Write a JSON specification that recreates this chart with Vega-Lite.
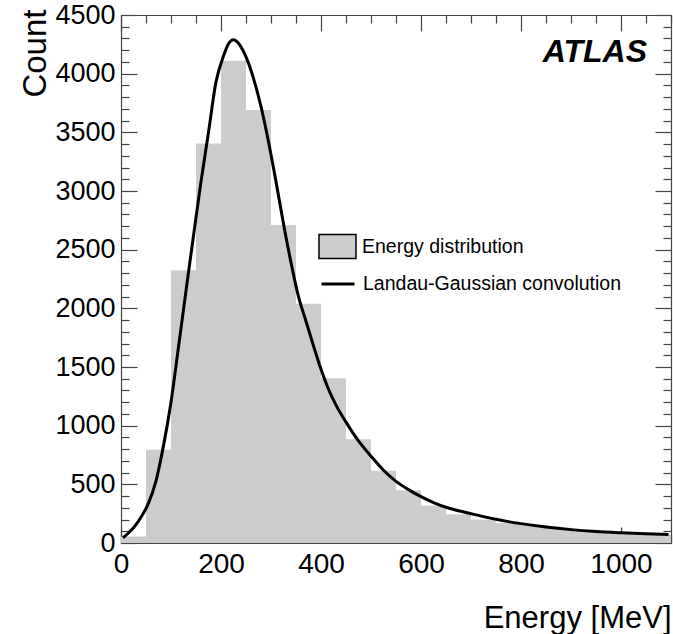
{
  "$schema": "https://vega.github.io/schema/vega-lite/v6.json",
  "width": 550,
  "height": 528,
  "autosize": {"type": "none"},
  "padding": {"left": 121, "top": 15, "right": 2, "bottom": 91},
  "background": "white",
  "config": {
    "font": "Liberation Sans",
    "view": {"stroke": null},
    "axis": {
      "domainColor": "#444",
      "domainWidth": 1.2,
      "tickColor": "#444",
      "tickWidth": 1.2,
      "labelFont": "Liberation Sans",
      "labelColor": "black",
      "titleFont": "Liberation Sans",
      "titleFontWeight": "normal",
      "titleColor": "black",
      "grid": false,
      "zindex": 1,
      "labelOverlap": false,
      "labelFlush": false,
      "labelBound": false
    },
    "legend": {
      "labelFont": "Liberation Sans",
      "labelFontSize": 19.5,
      "labelColor": "black",
      "labelLimit": 400,
      "padding": 0,
      "title": null
    }
  },
  "datasets": {
    "hist": [
      {"bin_start": 0, "bin_end": 50, "count": 55, "series": "Energy distribution"},
      {"bin_start": 50, "bin_end": 100, "count": 795, "series": "Energy distribution"},
      {"bin_start": 100, "bin_end": 150, "count": 2325, "series": "Energy distribution"},
      {"bin_start": 150, "bin_end": 200, "count": 3405, "series": "Energy distribution"},
      {"bin_start": 200, "bin_end": 250, "count": 4110, "series": "Energy distribution"},
      {"bin_start": 250, "bin_end": 300, "count": 3690, "series": "Energy distribution"},
      {"bin_start": 300, "bin_end": 350, "count": 2710, "series": "Energy distribution"},
      {"bin_start": 350, "bin_end": 400, "count": 2040, "series": "Energy distribution"},
      {"bin_start": 400, "bin_end": 450, "count": 1405, "series": "Energy distribution"},
      {"bin_start": 450, "bin_end": 500, "count": 885, "series": "Energy distribution"},
      {"bin_start": 500, "bin_end": 550, "count": 615, "series": "Energy distribution"},
      {"bin_start": 550, "bin_end": 600, "count": 450, "series": "Energy distribution"},
      {"bin_start": 600, "bin_end": 650, "count": 320, "series": "Energy distribution"},
      {"bin_start": 650, "bin_end": 700, "count": 245, "series": "Energy distribution"},
      {"bin_start": 700, "bin_end": 750, "count": 200, "series": "Energy distribution"},
      {"bin_start": 750, "bin_end": 800, "count": 170, "series": "Energy distribution"},
      {"bin_start": 800, "bin_end": 850, "count": 150, "series": "Energy distribution"},
      {"bin_start": 850, "bin_end": 900, "count": 130, "series": "Energy distribution"},
      {"bin_start": 900, "bin_end": 950, "count": 112, "series": "Energy distribution"},
      {"bin_start": 950, "bin_end": 1000, "count": 95, "series": "Energy distribution"},
      {"bin_start": 1000, "bin_end": 1050, "count": 82, "series": "Energy distribution"},
      {"bin_start": 1050, "bin_end": 1100, "count": 74, "series": "Energy distribution"}
    ],
    "fit": [
      {"energy": 4, "count": 45, "series": "Landau-Gaussian convolution"},
      {"energy": 15, "count": 85, "series": "Landau-Gaussian convolution"},
      {"energy": 25, "count": 130, "series": "Landau-Gaussian convolution"},
      {"energy": 40, "count": 220, "series": "Landau-Gaussian convolution"},
      {"energy": 55, "count": 340, "series": "Landau-Gaussian convolution"},
      {"energy": 70, "count": 530, "series": "Landau-Gaussian convolution"},
      {"energy": 85, "count": 830, "series": "Landau-Gaussian convolution"},
      {"energy": 100, "count": 1200, "series": "Landau-Gaussian convolution"},
      {"energy": 115, "count": 1670, "series": "Landau-Gaussian convolution"},
      {"energy": 130, "count": 2150, "series": "Landau-Gaussian convolution"},
      {"energy": 145, "count": 2620, "series": "Landau-Gaussian convolution"},
      {"energy": 160, "count": 3080, "series": "Landau-Gaussian convolution"},
      {"energy": 175, "count": 3500, "series": "Landau-Gaussian convolution"},
      {"energy": 190, "count": 3930, "series": "Landau-Gaussian convolution"},
      {"energy": 205, "count": 4150, "series": "Landau-Gaussian convolution"},
      {"energy": 215, "count": 4255, "series": "Landau-Gaussian convolution"},
      {"energy": 225, "count": 4290, "series": "Landau-Gaussian convolution"},
      {"energy": 235, "count": 4260, "series": "Landau-Gaussian convolution"},
      {"energy": 245, "count": 4190, "series": "Landau-Gaussian convolution"},
      {"energy": 255, "count": 4090, "series": "Landau-Gaussian convolution"},
      {"energy": 265, "count": 3960, "series": "Landau-Gaussian convolution"},
      {"energy": 280, "count": 3720, "series": "Landau-Gaussian convolution"},
      {"energy": 295, "count": 3420, "series": "Landau-Gaussian convolution"},
      {"energy": 310, "count": 3080, "series": "Landau-Gaussian convolution"},
      {"energy": 325, "count": 2720, "series": "Landau-Gaussian convolution"},
      {"energy": 340, "count": 2390, "series": "Landau-Gaussian convolution"},
      {"energy": 355, "count": 2100, "series": "Landau-Gaussian convolution"},
      {"energy": 370, "count": 1890, "series": "Landau-Gaussian convolution"},
      {"energy": 385, "count": 1680, "series": "Landau-Gaussian convolution"},
      {"energy": 400, "count": 1480, "series": "Landau-Gaussian convolution"},
      {"energy": 415, "count": 1310, "series": "Landau-Gaussian convolution"},
      {"energy": 430, "count": 1175, "series": "Landau-Gaussian convolution"},
      {"energy": 450, "count": 1030, "series": "Landau-Gaussian convolution"},
      {"energy": 475, "count": 870, "series": "Landau-Gaussian convolution"},
      {"energy": 500, "count": 740, "series": "Landau-Gaussian convolution"},
      {"energy": 525, "count": 620, "series": "Landau-Gaussian convolution"},
      {"energy": 550, "count": 525, "series": "Landau-Gaussian convolution"},
      {"energy": 575, "count": 455, "series": "Landau-Gaussian convolution"},
      {"energy": 600, "count": 395, "series": "Landau-Gaussian convolution"},
      {"energy": 625, "count": 345, "series": "Landau-Gaussian convolution"},
      {"energy": 650, "count": 305, "series": "Landau-Gaussian convolution"},
      {"energy": 675, "count": 275, "series": "Landau-Gaussian convolution"},
      {"energy": 700, "count": 250, "series": "Landau-Gaussian convolution"},
      {"energy": 725, "count": 225, "series": "Landau-Gaussian convolution"},
      {"energy": 750, "count": 202, "series": "Landau-Gaussian convolution"},
      {"energy": 775, "count": 182, "series": "Landau-Gaussian convolution"},
      {"energy": 800, "count": 165, "series": "Landau-Gaussian convolution"},
      {"energy": 850, "count": 136, "series": "Landau-Gaussian convolution"},
      {"energy": 900, "count": 114, "series": "Landau-Gaussian convolution"},
      {"energy": 950, "count": 98, "series": "Landau-Gaussian convolution"},
      {"energy": 1000, "count": 87, "series": "Landau-Gaussian convolution"},
      {"energy": 1050, "count": 78, "series": "Landau-Gaussian convolution"},
      {"energy": 1095, "count": 72, "series": "Landau-Gaussian convolution"}
    ],
    "tag": [{"label": "ATLAS", "energy": 1052, "count": 4100}]
  },
  "resolve": {"axis": {"x": "independent", "y": "independent"}},
  "layer": [
    {
      "data": {"name": "hist"},
      "mark": {"type": "bar", "stroke": null},
      "encoding": {
        "x": {
          "field": "bin_start",
          "type": "quantitative",
          "scale": {"domain": [0, 1100], "nice": false, "zero": false},
          "axis": {
            "orient": "bottom",
            "values": [0,50,100,150,200,250,300,350,400,450,500,550,600,650,700,750,800,850,900,950,1000,1050,1100],
            "format": "d",
            "tickSize": {"condition": {"test": "datum.value % 200 === 0", "value": -16}, "value": -8},
            "labelExpr": "datum.value % 200 === 0 ? datum.label : ''",
            "labelFontSize": 28,
            "labelPadding": 23,
            "title": "Energy [MeV]",
            "titleFontSize": 31,
            "titleAnchor": "end",
            "titleAlign": "right",
            "titleBaseline": "alphabetic",
            "titleY": 84
          }
        },
        "x2": {"field": "bin_end"},
        "y": {
          "field": "count",
          "type": "quantitative",
          "scale": {"domain": [0, 4500], "nice": false},
          "axis": {
            "orient": "left",
            "values": [0,100,200,300,400,500,600,700,800,900,1000,1100,1200,1300,1400,1500,1600,1700,1800,1900,2000,2100,2200,2300,2400,2500,2600,2700,2800,2900,3000,3100,3200,3300,3400,3500,3600,3700,3800,3900,4000,4100,4200,4300,4400,4500],
            "format": "d",
            "tickSize": {"condition": {"test": "datum.value % 500 === 0", "value": -16}, "value": -8},
            "labelExpr": "datum.value % 500 === 0 ? datum.label : ''",
            "labelFontSize": 27,
            "labelPadding": 22,
            "title": "Count",
            "titleFontSize": 33,
            "titleAnchor": "end",
            "titleAlign": "right",
            "titleBaseline": "alphabetic",
            "titleX": -76,
            "titleY": -6
          }
        },
        "y2": {"datum": 0},
        "fill": {
          "field": "series",
          "type": "nominal",
          "scale": {"domain": ["Energy distribution"], "range": ["#cccccc"]},
          "legend": {
            "orient": "none",
            "legendX": 197,
            "legendY": 212,
            "symbolType": "M-1,-0.65H1V0.65H-1Z",
            "symbolSize": 1369,
            "symbolStrokeColor": "#000000",
            "symbolStrokeWidth": 1.5,
            "symbolOpacity": 1,
            "labelOffset": 5
          }
        }
      }
    },
    {
      "data": {"name": "fit"},
      "mark": {"type": "line", "strokeWidth": 3, "interpolate": "monotone"},
      "encoding": {
        "x": {
          "field": "energy",
          "type": "quantitative",
          "axis": {
            "orient": "top",
            "values": [0,50,100,150,200,250,300,350,400,450,500,550,600,650,700,750,800,850,900,950,1000,1050,1100],
            "tickSize": {"condition": {"test": "datum.value % 200 === 0", "value": -16}, "value": -8},
            "labels": false,
            "title": null
          }
        },
        "y": {
          "field": "count",
          "type": "quantitative",
          "axis": {
            "orient": "right",
            "values": [0,100,200,300,400,500,600,700,800,900,1000,1100,1200,1300,1400,1500,1600,1700,1800,1900,2000,2100,2200,2300,2400,2500,2600,2700,2800,2900,3000,3100,3200,3300,3400,3500,3600,3700,3800,3900,4000,4100,4200,4300,4400,4500],
            "tickSize": {"condition": {"test": "datum.value % 500 === 0", "value": -16}, "value": -8},
            "labels": false,
            "title": null
          }
        },
        "stroke": {
          "field": "series",
          "type": "nominal",
          "scale": {"domain": ["Landau-Gaussian convolution"], "range": ["#000000"]},
          "legend": {
            "orient": "none",
            "legendX": 199,
            "legendY": 251,
            "symbolType": "stroke",
            "symbolSize": 1089,
            "symbolStrokeWidth": 3,
            "symbolOpacity": 1,
            "labelOffset": 7
          }
        }
      }
    },
    {
      "data": {"name": "tag"},
      "mark": {"type": "text", "font": "Liberation Sans", "fontSize": 32, "fontWeight": "bold", "fontStyle": "italic", "align": "right", "baseline": "alphabetic", "color": "black"},
      "encoding": {
        "x": {"field": "energy", "type": "quantitative", "axis": null},
        "y": {"field": "count", "type": "quantitative", "axis": null},
        "text": {"field": "label"}
      }
    }
  ]
}
